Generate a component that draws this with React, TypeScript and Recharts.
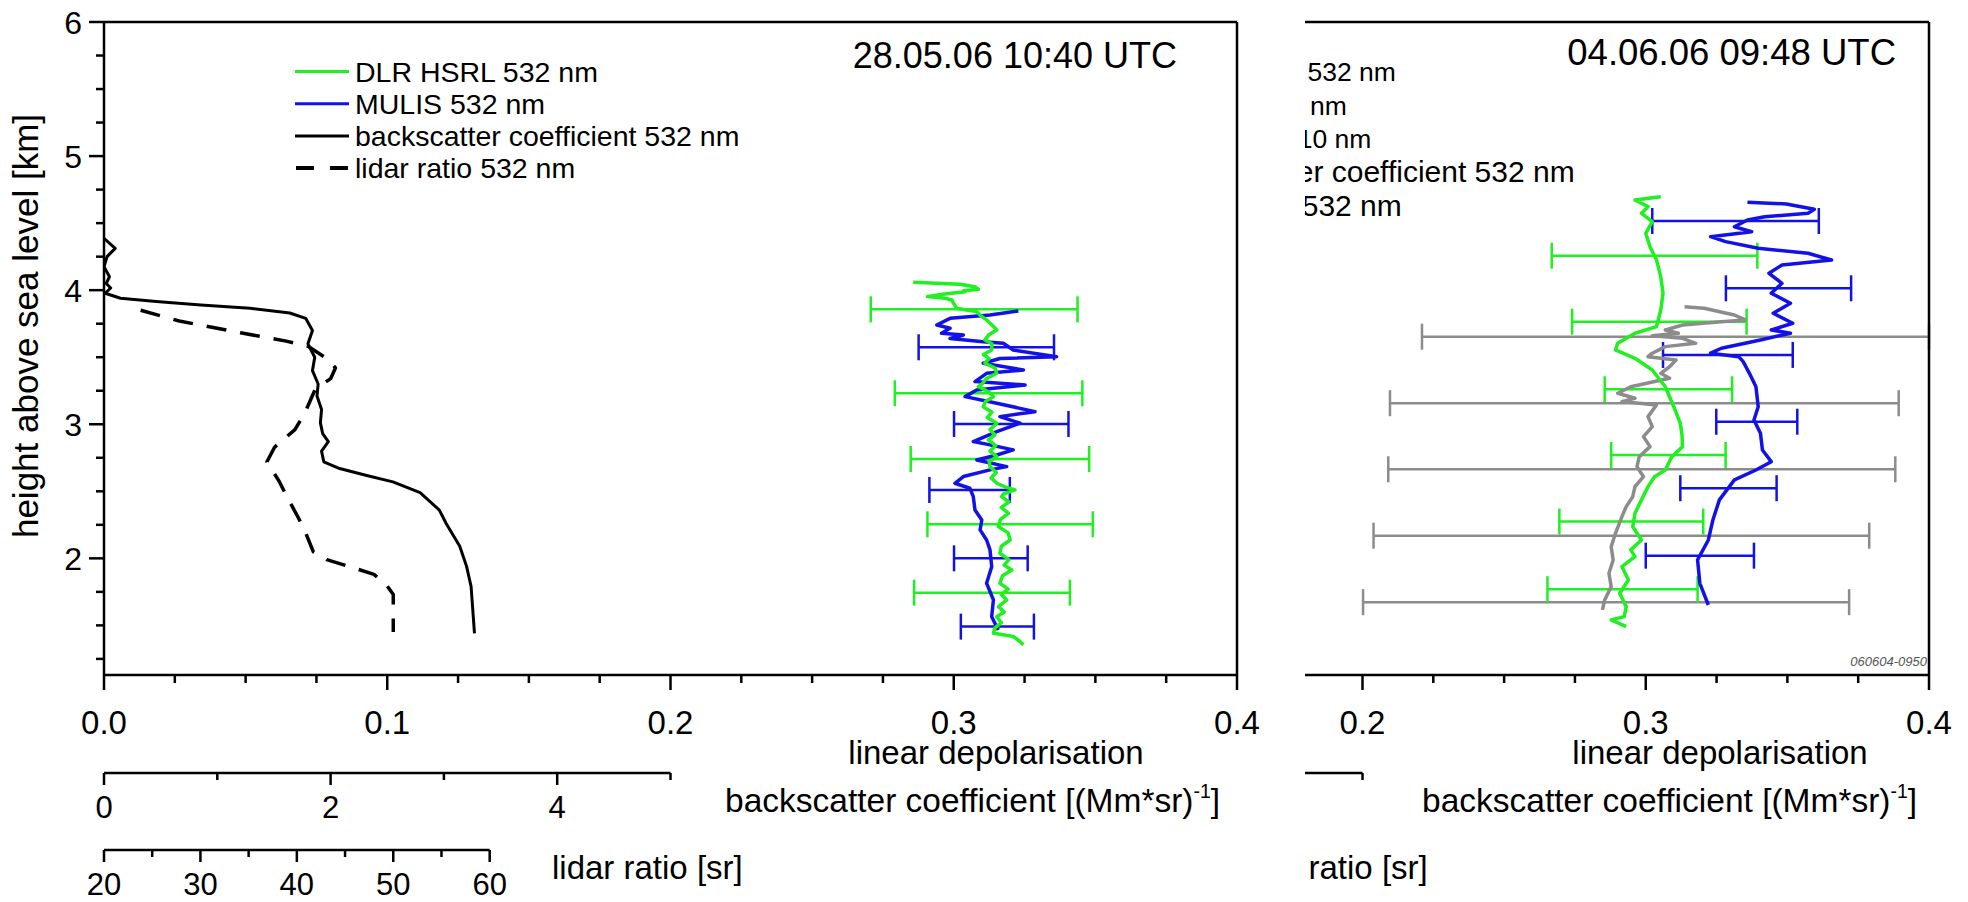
import { ComposedChart, LineChart, Scatter, ErrorBar, XAxis, YAxis, ReferenceLine } from 'recharts'

const FONT = '"Liberation Sans", Arial, Helvetica, sans-serif'
const GREEN = '#1ff01f'
const BLUE = '#1212e6'
const GREY = '#8c8c8c'
const BLACK = '#000000'

// axes
const depolDomain: [number, number] = [0, 0.4]
const heightDomain: [number, number] = [1.13, 6]
const depolTicks = [0, 0.025, 0.05, 0.075, 0.1, 0.125, 0.15, 0.175, 0.2, 0.225, 0.25, 0.275, 0.3, 0.325, 0.35, 0.375, 0.4]
const heightTicks = [1.25, 1.5, 1.75, 2, 2.25, 2.5, 2.75, 3, 3.25, 3.5, 3.75, 4, 4.25, 4.5, 4.75, 5, 5.25, 5.5, 5.75, 6]
// backscatter 0..5 spans 0..0.2 of depolarisation, lidar ratio 20..60 spans ~0.136
const bsDomain: [number, number] = [0, 10]
const bsTicks = [0, 1, 2, 3, 4, 5]
const lrDomain: [number, number] = [20, 137.5]
const lrTicks = [20, 25, 30, 35, 40, 45, 50, 55, 60]

// 28.05.06 — [height km, value]
const hsrl0528: [number, number][] = [
  [4.059, 0.2857], [4.05, 0.296], [4.044, 0.3022], [4.025, 0.3075], [4.007, 0.3087], [3.995, 0.3035], [3.989, 0.304],
  [3.97, 0.296], [3.952, 0.2907], [3.94, 0.297], [3.927, 0.2993], [3.9, 0.3], [3.865, 0.301], [3.85, 0.305], [3.84, 0.3081],
  [3.81, 0.3095], [3.778, 0.3116], [3.74, 0.3135], [3.703, 0.3152], [3.67, 0.3125], [3.629, 0.311], [3.6, 0.3135],
  [3.554, 0.3134], [3.52, 0.3105], [3.49, 0.3125], [3.455, 0.311], [3.42, 0.3145], [3.38, 0.3152], [3.34, 0.3115],
  [3.3, 0.31], [3.28, 0.3087], [3.24, 0.3125], [3.206, 0.314], [3.17, 0.3112], [3.131, 0.3104], [3.09, 0.3135],
  [3.05, 0.3118], [3.008, 0.3152], [2.96, 0.3128], [2.92, 0.3145], [2.883, 0.3122], [2.84, 0.3148], [2.8, 0.3128],
  [2.758, 0.3152], [2.72, 0.3125], [2.684, 0.3128], [2.64, 0.315], [2.6, 0.3132], [2.56, 0.3152], [2.53, 0.3185],
  [2.51, 0.3216], [2.48, 0.3175], [2.46, 0.3169], [2.42, 0.3195], [2.38, 0.3168], [2.336, 0.3193], [2.29, 0.3165],
  [2.237, 0.3157], [2.19, 0.3192], [2.137, 0.3199], [2.09, 0.3168], [2.038, 0.3163], [1.99, 0.3195], [1.95, 0.3178],
  [1.913, 0.3205], [1.87, 0.3172], [1.814, 0.3163], [1.77, 0.3192], [1.73, 0.3168], [1.69, 0.3187], [1.64, 0.3158],
  [1.6, 0.3178], [1.565, 0.3152], [1.52, 0.3168], [1.48, 0.3145], [1.442, 0.314], [1.43, 0.3175], [1.417, 0.321],
  [1.39, 0.3228], [1.355, 0.3246],
]
const mulis0528: [number, number][] = [
  [3.845, 0.3228], [3.815, 0.3128], [3.79, 0.2987], [3.74, 0.294], [3.716, 0.2987], [3.678, 0.2957], [3.666, 0.3034],
  [3.64, 0.2987], [3.616, 0.3104], [3.604, 0.3175], [3.554, 0.321], [3.504, 0.3363], [3.49, 0.3163], [3.455, 0.3104],
  [3.405, 0.3246], [3.38, 0.3116], [3.318, 0.3075], [3.293, 0.3252], [3.256, 0.3081], [3.206, 0.304], [3.157, 0.3152],
  [3.094, 0.3287], [3.057, 0.3163], [3.008, 0.3234], [2.945, 0.3152], [2.871, 0.3069], [2.846, 0.3128], [2.809, 0.321],
  [2.771, 0.3152], [2.734, 0.3081], [2.684, 0.3187], [2.66, 0.3128], [2.61, 0.3034], [2.56, 0.3004], [2.523, 0.3057],
  [2.46, 0.3069], [2.361, 0.3075], [2.286, 0.3099], [2.212, 0.3093], [2.137, 0.3116], [2.063, 0.3128], [1.938, 0.3134],
  [1.814, 0.3116], [1.69, 0.314], [1.565, 0.3134], [1.466, 0.3157],
]
const backscatter0528: [number, number][] = [
  [4.387, 0], [4.312, 0.099], [4.25, 0.027], [4.175, 0], [4.1, 0.048], [4.05, 0.02], [4.016, 0.059], [3.977, 0.01],
  [3.94, 0.146], [3.915, 0.461], [3.89, 0.855], [3.865, 1.29], [3.83, 1.64], [3.79, 1.78], [3.7, 1.84], [3.6, 1.8],
  [3.5, 1.86], [3.4, 1.84], [3.3, 1.89], [3.21, 1.88], [3.11, 1.92], [3.01, 1.91], [2.93, 1.93], [2.87, 1.98],
  [2.8, 1.92], [2.72, 1.94], [2.67, 2.08], [2.62, 2.31], [2.57, 2.55], [2.49, 2.79], [2.36, 2.96], [2.26, 3.02],
  [2.09, 3.14], [1.94, 3.2], [1.79, 3.24], [1.44, 3.27],
]
const lidarRatio0528: [number, number][] = [
  [3.85, 23.8], [3.77, 27.8], [3.68, 34.3], [3.62, 38.9], [3.58, 41.2], [3.48, 43.3], [3.42, 44.0], [3.34, 43.5],
  [3.26, 41.9], [3.08, 40.8], [2.96, 39.8], [2.83, 37.7], [2.72, 36.9], [2.57, 38.2], [2.47, 38.9], [2.31, 40.1],
  [2.21, 40.8], [2.05, 41.7], [1.99, 43.1], [1.94, 45.4], [1.88, 48.0], [1.8, 49.3], [1.73, 50.0], [1.57, 50.0],
  [1.45, 50.0],
]
// [height, centre, half width]
const hsrlErr0528: [number, number, number][] = [
  [3.857, 0.3072, 0.0365], [3.231, 0.3123, 0.0331], [2.741, 0.3163, 0.0315], [2.254, 0.3199, 0.0292], [1.744, 0.3135, 0.0275],
]
const mulisErr0528: [number, number, number][] = [
  [3.574, 0.3115, 0.0239], [3.002, 0.3203, 0.0202], [2.51, 0.3056, 0.0142], [2.0, 0.3131, 0.013], [1.491, 0.3154, 0.0129],
]

// 04.06.06
const hsrl0604: [number, number][] = [
  [4.697, 0.3053], [4.673, 0.2962], [4.623, 0.3008], [4.573, 0.2985], [4.511, 0.3023], [4.424, 0.3], [4.324, 0.3015],
  [4.225, 0.3038], [4.101, 0.3053], [3.977, 0.3061], [3.852, 0.3053], [3.728, 0.3038], [3.679, 0.2962], [3.604, 0.2901],
  [3.554, 0.2893], [3.492, 0.2962], [3.405, 0.3023], [3.28, 0.3069], [3.131, 0.3099], [3.007, 0.3122], [2.92, 0.3128],
  [2.833, 0.313], [2.758, 0.3092], [2.659, 0.3069], [2.609, 0.3031], [2.535, 0.3008], [2.436, 0.2985], [2.336, 0.2962],
  [2.236, 0.2954], [2.137, 0.2985], [2.063, 0.2947], [2.013, 0.2962], [1.938, 0.2916], [1.839, 0.2939], [1.74, 0.2908],
  [1.64, 0.2931], [1.565, 0.2924], [1.541, 0.2878], [1.491, 0.2931],
]
const mulis0604: [number, number][] = [
  [4.655, 0.3359], [4.643, 0.3496], [4.603, 0.3595], [4.573, 0.3573], [4.548, 0.342], [4.523, 0.3359], [4.473, 0.3313],
  [4.436, 0.3374], [4.399, 0.3229], [4.362, 0.3282], [4.312, 0.3397], [4.275, 0.3573], [4.225, 0.3656], [4.188, 0.3481],
  [4.126, 0.3435], [4.051, 0.3481], [3.977, 0.3443], [3.902, 0.3511], [3.828, 0.345], [3.753, 0.3519], [3.703, 0.3443],
  [3.679, 0.3511], [3.629, 0.3405], [3.567, 0.3267], [3.53, 0.3229], [3.504, 0.3328], [3.467, 0.3344], [3.38, 0.3366],
  [3.28, 0.3389], [3.131, 0.3397], [3.032, 0.3382], [2.933, 0.3405], [2.808, 0.3412], [2.721, 0.3443], [2.659, 0.3389],
  [2.585, 0.3313], [2.436, 0.326], [2.286, 0.3237], [2.137, 0.3221], [1.988, 0.3183], [1.814, 0.3191], [1.652, 0.3221],
]
const bertha0604: [number, number][] = [
  [3.877, 0.3137], [3.865, 0.3206], [3.815, 0.3313], [3.778, 0.3351], [3.765, 0.3267], [3.74, 0.313], [3.703, 0.3069],
  [3.679, 0.3115], [3.66, 0.3023], [3.641, 0.313], [3.604, 0.3176], [3.579, 0.3069], [3.53, 0.3023], [3.504, 0.3008],
  [3.479, 0.3107], [3.429, 0.3084], [3.38, 0.3053], [3.343, 0.3084], [3.28, 0.2947], [3.231, 0.2901], [3.194, 0.2962],
  [3.169, 0.2916], [3.144, 0.3038], [3.057, 0.3008], [2.982, 0.3023], [2.908, 0.2992], [2.833, 0.3015], [2.758, 0.2977],
  [2.684, 0.2969], [2.609, 0.2992], [2.535, 0.2962], [2.46, 0.2954], [2.386, 0.2931], [2.311, 0.2916], [2.187, 0.2893],
  [2.087, 0.2878], [1.988, 0.2885], [1.889, 0.287], [1.789, 0.2878], [1.69, 0.2855], [1.615, 0.2847],
]
const hsrlErr0604: [number, number, number][] = [
  [4.257, 0.3031, 0.0363], [3.765, 0.3048, 0.0308], [3.261, 0.308, 0.0225], [2.771, 0.308, 0.0202], [2.274, 0.2949, 0.0254],
  [1.77, 0.2918, 0.0265],
]
const mulisErr0604: [number, number, number][] = [
  [4.516, 0.3317, 0.0294], [4.014, 0.3504, 0.0221], [3.517, 0.329, 0.0229], [3.019, 0.3392, 0.0143], [2.523, 0.3292, 0.017],
  [2.02, 0.3191, 0.0191],
]
const berthaErr0604: [number, number, number][] = [
  [3.653, 0.3105, 0.0895], [3.157, 0.2995, 0.0898], [2.664, 0.2986, 0.0895], [2.169, 0.2914, 0.0875], [1.673, 0.286, 0.0858],
]

const pts = (rows: [number, number][]) => rows.map(([h, x]) => ({ h, x }))
const errPts = (rows: [number, number, number][]) => rows.map(([h, x, e]) => ({ h, x, e }))

const NoDot = () => <g />

// labels left of minX are hidden behind the crop of the second panel, so they are not drawn
const makeDepolTick = (minX: number) => (p: any) => {
  const v = p.payload.value
  const major = Math.abs(v * 10 - Math.round(v * 10)) < 1e-6
  return (
    <g>
      <line x1={p.x} x2={p.x} y1={p.y} y2={p.y + (major ? 15 : 8)} stroke={BLACK} strokeWidth={2.5} />
      {major && p.x >= minX && (
        <text x={p.x} y={p.y + 59} textAnchor="middle" fontSize={33} fontFamily={FONT} fill={BLACK}>
          {v.toFixed(1)}
        </text>
      )}
    </g>
  )
}

const makeHeightTick = (minX: number) => (p: any) => {
  const v = p.payload.value
  const major = Number.isInteger(v)
  return (
    <g>
      <line x1={p.x - (major ? 15 : 8)} x2={p.x} y1={p.y} y2={p.y} stroke={BLACK} strokeWidth={2.5} />
      {major && p.x - 60 >= minX && (
        <text x={p.x - 22} y={p.y + 11.5} textAnchor="end" fontSize={32} fontFamily={FONT} fill={BLACK}>
          {v}
        </text>
      )}
    </g>
  )
}

interface ScaleBarProps {
  x0: number
  lineY: number
  len: number
  domain: [number, number]
  ticks: number[]
  majorEvery: number
  minX: number
}

function ScaleBar({ x0, lineY, len, domain, ticks, majorEvery, minX }: ScaleBarProps) {
  const Tick = (p: any) => {
    const v = p.payload.value
    const major = v % majorEvery === 0
    return (
      <g>
        <line x1={p.x} x2={p.x} y1={p.y} y2={p.y + (major ? 12 : 7)} stroke={BLACK} strokeWidth={2.5} />
        {major && x0 - 30 + p.x >= minX && (
          <text x={p.x} y={p.y + 45} textAnchor="middle" fontSize={31} fontFamily={FONT} fill={BLACK}>
            {v}
          </text>
        )}
      </g>
    )
  }
  return (
    <div style={{ position: 'absolute', left: x0 - 30, top: lineY - 6 }}>
      <LineChart width={len + 60} height={74} margin={{ top: 4, right: 30, bottom: 0, left: 30 }} data={[{ v: domain[0] }, { v: domain[1] }]}>
        <XAxis dataKey="v" type="number" domain={domain} ticks={ticks} interval={0} tickSize={0} tickMargin={0}
          tickLine={false} tick={Tick} axisLine={{ stroke: BLACK, strokeWidth: 2.5 }} height={68} />
        <YAxis hide />
      </LineChart>
    </div>
  )
}

interface Series { data: { h: number; x: number }[]; color: string; axis: 'd' | 'bs' | 'lr'; width: number; dash?: string }
interface BarSet { data: { h: number; x: number; e: number }[]; color: string }
interface LegendItem { label: string; color: string; dash?: boolean; size: number }

interface PanelProps {
  left: number
  minX: number
  layers: (Series | BarSet)[]
  title: string
  titleX: number
  titleY: number
  titleSize: number
  legend: LegendItem[]
  legendX: number
  legendY: number
  legendStep: number
  depolLabelX: number
  bsLabelX: number
  lidarLabelX: number
  yLabel: boolean
  lidarBar: boolean
  stamp?: string
}

function Panel(p: PanelProps) {
  const DepolTick = makeDepolTick(p.minX)
  const HeightTick = makeHeightTick(p.minX)
  return (
    <div style={{ position: 'absolute', left: p.left, top: 0, width: 1260, height: 902 }}>
      <div style={{ position: 'absolute', left: 0, top: 0 }}>
        <ComposedChart width={1260} height={760} margin={{ top: 22, right: 23, bottom: 0, left: 0 }}>
          <XAxis xAxisId="d" dataKey="x" type="number" domain={depolDomain} ticks={depolTicks} interval={0}
            tickSize={0} tickMargin={0} tickLine={false} tick={DepolTick} height={85} allowDataOverflow
            axisLine={{ stroke: BLACK, strokeWidth: 2.5 }} />
          <XAxis xAxisId="bs" dataKey="x" type="number" domain={bsDomain} hide height={0} allowDataOverflow />
          <XAxis xAxisId="lr" dataKey="x" type="number" domain={lrDomain} hide height={0} allowDataOverflow />
          <YAxis dataKey="h" type="number" domain={heightDomain} ticks={heightTicks} interval={0} tickSize={0}
            tickMargin={0} tickLine={false} tick={HeightTick} width={104} allowDataOverflow
            axisLine={{ stroke: BLACK, strokeWidth: 2.5 }} />
          {p.layers.map((s, i) =>
            'e' in (s.data[0] || {}) ? (
              <Scatter key={i} xAxisId="d" data={s.data} shape={NoDot} isAnimationActive={false} legendType="none">
                <ErrorBar dataKey="e" direction="x" width={13} stroke={s.color} strokeWidth={2.5} />
              </Scatter>
            ) : (
              <Scatter key={i} xAxisId={(s as Series).axis} data={s.data} shape={NoDot} isAnimationActive={false}
                legendType="none" lineJointType="linear"
                line={{ stroke: s.color, strokeWidth: (s as Series).width, strokeDasharray: (s as Series).dash, strokeLinejoin: 'round' }} />
            ),
          )}
          <ReferenceLine xAxisId="d" y={6} stroke={BLACK} strokeWidth={2.5} />
          <ReferenceLine xAxisId="d" x={0.4} stroke={BLACK} strokeWidth={2.5} />
        </ComposedChart>
      </div>
      <ScaleBar x0={104} lineY={773} len={566.5} domain={[0, 5]} ticks={bsTicks} majorEvery={2} minX={p.minX} />
      {p.lidarBar && (
        <ScaleBar x0={104} lineY={850} len={385.7} domain={[20, 60]} ticks={lrTicks} majorEvery={10} minX={p.minX} />
      )}
      <svg width={1260} height={902} style={{ position: 'absolute', left: 0, top: 0, overflow: 'visible', pointerEvents: 'none' }}
        fontFamily={FONT} fill={BLACK}>
        <text x={p.titleX} y={p.titleY} textAnchor="end" fontSize={p.titleSize}>{p.title}</text>
        {p.legend.map((it, i) => {
          const cy = p.legendY + i * p.legendStep
          return (
            <g key={it.label}>
              {it.dash ? (
                <line x1={p.legendX - 59} x2={p.legendX - 7} y1={cy} y2={cy} stroke={it.color} strokeWidth={4} strokeDasharray="18 16" />
              ) : (
                <line x1={p.legendX - 60} x2={p.legendX - 6} y1={cy} y2={cy} stroke={it.color} strokeWidth={3} />
              )}
              <text x={p.legendX} y={cy + it.size * 0.36} fontSize={it.size}>{it.label}</text>
            </g>
          )
        })}
        <text x={p.depolLabelX} y={764} textAnchor="middle" fontSize={33}>linear depolarisation</text>
        <text x={p.bsLabelX} y={812} fontSize={33.5}>
          backscatter coefficient [(Mm*sr)<tspan dy={-14} fontSize={19.5}>-1</tspan>
          <tspan dy={14}>]</tspan>
        </text>
        <text x={p.lidarLabelX} y={879} fontSize={33}>lidar ratio [sr]</text>
        {p.yLabel && (
          <text x={25} y={326} textAnchor="middle" dominantBaseline="central" fontSize={35} transform="rotate(-90 25 326)">
            height above sea level [km]
          </text>
        )}
        {p.stamp && (
          <text x={1235} y={666} textAnchor="end" fontSize={13} fontStyle="italic" fill="#555">{p.stamp}</text>
        )}
      </svg>
    </div>
  )
}

export default function App() {
  return (
    <div style={{ position: 'absolute', left: 0, top: 0, width: 1968, height: 902, background: '#fff', overflow: 'hidden', fontFamily: FONT }}>
      <Panel
        left={0}
        minX={-Infinity}
        layers={[
          { data: pts(backscatter0528), color: BLACK, axis: 'bs', width: 3 },
          { data: pts(lidarRatio0528), color: BLACK, axis: 'lr', width: 3.5, dash: '20 14' },
          { data: pts(mulis0528), color: BLUE, axis: 'd', width: 3.5 },
          { data: errPts(mulisErr0528), color: BLUE },
          { data: pts(hsrl0528), color: GREEN, axis: 'd', width: 3.5 },
          { data: errPts(hsrlErr0528), color: GREEN },
        ]}
        title="28.05.06 10:40 UTC"
        titleX={1177}
        titleY={67.5}
        titleSize={36}
        legend={[
          { label: 'DLR HSRL 532 nm', color: GREEN, size: 28.5 },
          { label: 'MULIS 532 nm', color: BLUE, size: 28.5 },
          { label: 'backscatter coefficient 532 nm', color: BLACK, size: 28.5 },
          { label: 'lidar ratio 532 nm', color: BLACK, dash: true, size: 28.5 },
        ]}
        legendX={355}
        legendY={71.5}
        legendStep={32.2}
        depolLabelX={996}
        bsLabelX={725}
        lidarLabelX={552}
        yLabel
        lidarBar
      />
      <div style={{ position: 'absolute', left: 1305, top: 0, width: 663, height: 902, overflow: 'hidden' }}>
        <Panel
          left={692 - 1305}
          minX={1305 - 692}
          layers={[
            { data: pts(bertha0604), color: GREY, axis: 'd', width: 3.5 },
            { data: errPts(berthaErr0604), color: GREY },
            { data: pts(mulis0604), color: BLUE, axis: 'd', width: 3.5 },
            { data: errPts(mulisErr0604), color: BLUE },
            { data: pts(hsrl0604), color: GREEN, axis: 'd', width: 3.5 },
            { data: errPts(hsrlErr0604), color: GREEN },
          ]}
          title="04.06.06 09:48 UTC"
          titleX={1204}
          titleY={64.5}
          titleSize={36.5}
          legend={[
            { label: 'DLR HSRL 532 nm', color: GREEN, size: 26.5 },
            { label: 'MULIS 532 nm', color: BLUE, size: 26.5 },
            { label: 'BERTHA 710 nm', color: GREY, size: 26.5 },
            { label: 'backscatter coefficient 532 nm', color: BLACK, size: 30 },
            { label: 'lidar ratio 532 nm', color: BLACK, dash: true, size: 30 },
          ]}
          legendX={478}
          legendY={71.7}
          legendStep={33.3}
          depolLabelX={1028}
          bsLabelX={730}
          lidarLabelX={545}
          yLabel={false}
          lidarBar={false}
          stamp="060604-0950"
        />
      </div>
    </div>
  )
}
